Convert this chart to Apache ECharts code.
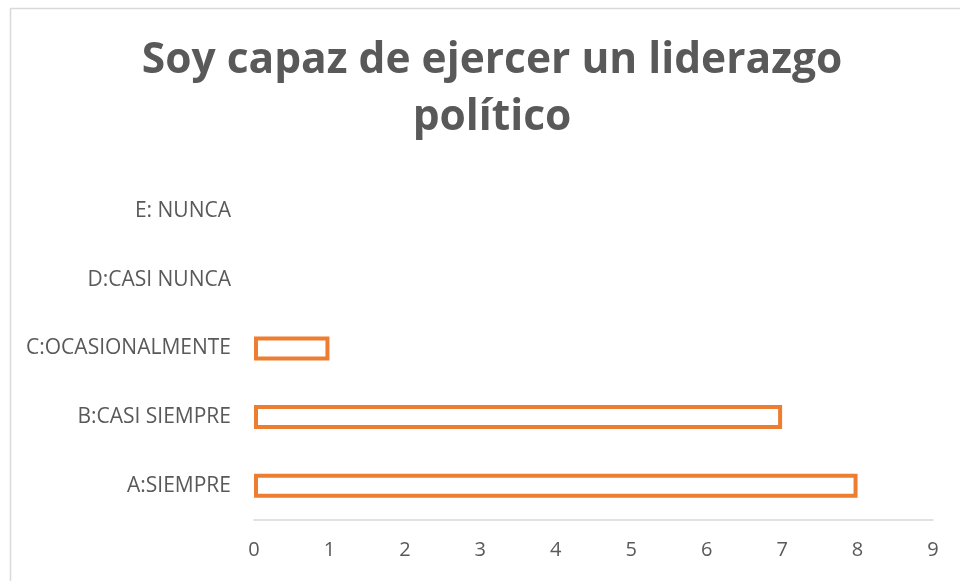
<!DOCTYPE html>
<html>
<head>
<meta charset="utf-8">
<script src="https://cdn.jsdelivr.net/npm/echarts@6/dist/echarts.min.js"></script>
<style>
  html, body { margin: 0; padding: 0; background: #fff; }
  #main { width: 960px; height: 581px; }
</style>
</head>
<body>
<div id="main"></div>
<script>
// categorias (de abajo hacia arriba) y respuestas
var categorias = ["A:SIEMPRE", "B:CASI SIEMPRE", "C:OCASIONALMENTE", "D:CASI NUNCA", "E: NUNCA"];
var respuestas = [8, 7, 1, 0, 0];
var xTicks = [0, 1, 2, 3, 4, 5, 6, 7, 8, 9];

var barras = respuestas.map(function (v) {
  // las barras en cero no se dibujan
  return v === 0 ? { value: v, itemStyle: { borderWidth: 0, color: "transparent" } } : v;
});

var myChart = echarts.init(document.getElementById("main"));
myChart.setOption({
  animation: false,
  title: {
    text: "Soy capaz de ejercer un liderazgo\npolítico",
    left: 487,
    top: 27,
    textAlign: "center",
    textStyle: {
      fontFamily: "Open Sans",
      fontWeight: "bold",
      fontSize: 42.5,
      lineHeight: 57,
      color: "#595959"
    }
  },
  graphic: [
    {
      type: "rect",
      left: 8,
      top: 6,
      shape: { width: 1000, height: 1000 },
      style: { fill: "none", stroke: "#d9d9d9", lineWidth: 1.5 },
      silent: true
    }
  ],
  grid: { left: 254, right: 27, top: 177, bottom: 61 },
  xAxis: {
    type: "value",
    min: xTicks[0],
    max: xTicks[xTicks.length - 1],
    interval: 1,
    splitLine: { show: false },
    axisLine: { show: true, lineStyle: { color: "#d9d9d9", width: 1.5 } },
    axisTick: { show: false },
    axisLabel: {
      margin: 20,
      color: "#595959",
      fontFamily: "Open Sans",
      fontSize: 20
    }
  },
  yAxis: {
    type: "category",
    data: categorias,
    axisLine: { show: false },
    axisTick: { show: false },
    axisLabel: {
      margin: 23,
      color: "#595959",
      fontFamily: "Open Sans",
      fontSize: 21
    }
  },
  series: [
    {
      name: "Respuestas",
      type: "bar",
      data: barras,
      barWidth: 24,
      itemStyle: {
        color: "#ffffff",
        borderColor: "#ed7d31",
        borderWidth: 4
      }
    }
  ]
});
</script>
</body>
</html>
